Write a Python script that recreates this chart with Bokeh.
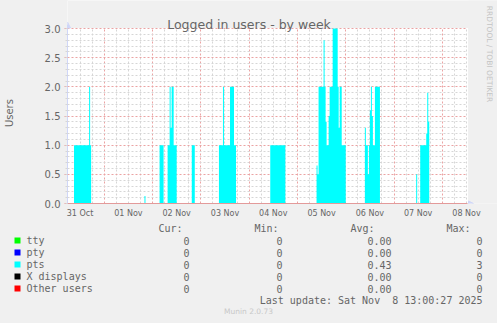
import math
from bokeh.plotting import figure
from bokeh.layouts import column, row
from bokeh.models import (FixedTicker, Arrow, NormalHead, Label,
                          Range1d, PrintfTickFormatter)
from bokeh.core.properties import value
from bokeh.embed import file_html
from bokeh.resources import INLINE

# ---------------- data ----------------
# time axis: hours since 31 Oct 00:00
day_labels = ["31 Oct", "01 Nov", "02 Nov", "03 Nov", "04 Nov",
              "05 Nov", "06 Nov", "07 Nov", "08 Nov"]
y_ticks = [0.0, 0.5, 1.0, 1.5, 2.0, 2.5, 3.0]

# pts logged-in users (30 min averages), step values starting at given hour
pts_hours = [
    5.5, 9.0, 16.5, 17.0, 17.5,
    44.0, 44.5,
    51.5, 53.5,
    55.5, 56.5, 57.0, 57.5, 58.5, 60.0,
    67.5, 69.0,
    81.0, 83.0, 83.5, 86.5, 88.5, 89.5,
    106.5, 114.0,
    129.5, 130.0, 130.5, 133.0, 133.5, 134.0, 134.5, 135.5, 136.0, 137.5,
    140.0, 140.5, 141.0, 142.0, 144.0,
    153.5, 154.0, 155.0, 155.5, 156.0, 156.5, 157.0, 157.5, 158.5, 161.0,
    179.0, 179.5,
    181.0, 184.0, 184.5, 185.0, 185.5, 205.0,
]
pts_values = [
    0, 1, 2, 1, 0,
    0.13, 0,
    1, 0,
    1, 2, 1.3, 2, 1, 0,
    1, 0,
    1, 2, 1, 2, 1, 0,
    1, 0,
    0.65, 0.5, 2, 2.8, 2, 1.4, 1, 1.5, 2, 3,
    2, 1.3, 2, 1, 0,
    1.3, 1, 0.5, 1, 1.6, 2, 1.5, 1, 2, 0,
    0.5, 0,
    1, 1.2, 1.9, 1.4, 0, 0,
]

series_names = ["tty", "pty", "pts", "X displays", "Other users"]
series_colors = ["#00FF00", "#0000FF", "#00FFFF", "#000000", "#FF0000"]
cur_vals = ["0", "0", "0", "0", "0"]
min_vals = ["0", "0", "0", "0", "0"]
avg_vals = ["0.00", "0.00", "0.43", "0.00", "0.00"]
max_vals = ["0", "0", "3", "0", "0"]
last_update = "Last update: Sat Nov\u00a0 8 13:00:27 2025"

X0, X1 = 5.76, 204.5      # visible time span (hours)
Y0, Y1 = 0.0, 3.0
PXH = 400 / (X1 - X0)     # px per hour
PXU = 175 / (Y1 - Y0)     # px per user
XR = X1 + 30 / PXH        # frame runs on to the right edge of the image
YR = Y1 + 28 / PXU        # and up to its top edge

FONT = "#666666"
AXIS = "#CFD6F8"
MAJ = "#EBA3A3"
MIN = "#D6D6D6"
BACK = "#F0F0F0"
FL, FB = 67, 203          # frame left / bottom in image pixels

# ---------------- main chart ----------------
p = figure(width=497, height=220,
           x_range=Range1d(X0, XR), y_range=Range1d(Y0, YR),
           output_backend="svg", toolbar_location=None,
           min_border_left=FL, min_border_right=0,
           min_border_top=0, min_border_bottom=17)
p.background_fill_color = "#FFFFFF"
p.border_fill_color = BACK
p.outline_line_color = None

label_hours = [12 + 24 * i for i in range(len(day_labels))]
midnights = [24 * i for i in range(1, len(day_labels))]
six_hours = [6 * i for i in range(1, 35) if (6 * i) % 24 != 0]

xa = p.xaxis[0]
xa.ticker = FixedTicker(ticks=label_hours)
xa.major_label_overrides = {h: t for h, t in zip(label_hours, day_labels)}
xa.bounds = (X0, X1)
xa.major_tick_out = 0
xa.major_tick_in = 0
xa.minor_tick_out = 0
xa.minor_tick_in = 0
xa.major_label_standoff = 5
xa.major_label_text_font = "DejaVu Sans"
xa.major_label_text_font_size = "8px"
xa.major_label_text_color = FONT
xa.axis_line_color = "#E39A9A"

ya = p.yaxis[0]
ya.ticker = FixedTicker(ticks=y_ticks,
                        minor_ticks=[round(0.1 * i, 1) for i in range(31)])
ya.formatter = PrintfTickFormatter(format="%.1f")
ya.bounds = (Y0, Y1 + 4 / PXU)
ya.axis_line_color = AXIS
ya.major_tick_out = 3
ya.major_tick_in = 0
ya.major_tick_line_color = MAJ
ya.minor_tick_out = 2
ya.minor_tick_in = 0
ya.minor_tick_line_color = MIN
ya.major_label_standoff = 4
ya.major_label_text_font = "DejaVu Sans"
ya.major_label_text_font_size = "10px"
ya.major_label_text_color = FONT
# trailing no-break spaces move the centred label down to the canvas middle
ya.axis_label = "Users" + "\u00a0" * 7
ya.axis_label_text_font = "DejaVu Sans"
ya.axis_label_text_font_size = "10px"
ya.axis_label_text_font_style = "normal"
ya.axis_label_text_color = FONT
ya.axis_label_standoff = 27

p.xgrid.ticker = FixedTicker(ticks=midnights, minor_ticks=six_hours)
p.ygrid.ticker = FixedTicker(ticks=y_ticks,
                             minor_ticks=[round(0.1 * i, 1) for i in range(31) if i % 5])
for g, cb in ((p.xgrid[0], (Y0, Y1)), (p.ygrid[0], (X0, X1))):
    g.grid_line_color = MAJ
    g.grid_line_dash = "2 2"
    g.minor_grid_line_color = MIN
    g.minor_grid_line_dash = "2 2"
    try:
        g.cross_bounds = cb
    except AttributeError:
        pass

p.varea_step(x=pts_hours, y1=0, y2=pts_values, step_mode="after",
             fill_color="#00FFFF")

# grey margins inside the frame (around the white canvas)
p.quad(left=[X0, X1 + 0.6 / PXH], right=[XR, XR],
       bottom=[Y1 + 0.6 / PXU, Y0 - 1], top=[YR, YR],
       fill_color=BACK, line_color=None)

# axis arrows
p.add_layout(Arrow(end=NormalHead(size=6, fill_color=AXIS, line_color=AXIS),
                   x_start=X0, y_start=Y1 + 2 / PXU, x_end=X0, y_end=Y1 + 6.5 / PXU,
                   line_color=AXIS, line_width=1, line_alpha=0))
p.add_layout(Arrow(end=NormalHead(size=5, fill_color=AXIS, line_color=AXIS),
                   x_start=X1 - 1 / PXH, y_start=0, x_end=X1 + 6 / PXH, y_end=0,
                   line_color=AXIS, line_width=1, line_alpha=0))


def lab(text, cx, cy, align="left", size="10px", font="DejaVu Sans",
        color=FONT, angle=0.0, baseline="alphabetic"):
    p.add_layout(Label(x=cx - FL, y=FB - cy, x_units="screen", y_units="screen",
                       text=text, text_align=align, text_baseline=baseline,
                       text_font=font, text_font_size=size, text_color=color,
                       angle=angle))


lab("Logged in users - by week", 248.5, 23.5, align="center", size="12.5px")
lab("RRDTOOL / TOBI OETIKER", 488.5, 53.5, align="center", size="7.5px",
    color="#C4C4C4", angle=-math.pi / 2, baseline="middle")

# ---------------- legend table ----------------
q = figure(width=497, height=103, x_range=Range1d(0, 497), y_range=Range1d(103, 0),
           output_backend="svg", toolbar_location=None,
           x_axis_location=None, y_axis_location=None,
           min_border_left=0, min_border_right=0, min_border_top=0,
           min_border_bottom=0)
q.background_fill_color = BACK
q.border_fill_color = BACK
q.outline_line_color = None
q.grid.grid_line_color = None

mono = dict(text_font=value("DejaVu Sans Mono"), text_font_size=value("10px"),
            text_color=FONT, text_baseline="alphabetic")

q.text(x=[182, 278, 374, 470], y=[8] * 4, text=["Cur:", "Min:", "Avg:", "Max:"],
       text_align="right", **mono)
rows_y = [20 + 12 * i for i in range(len(series_names))]
q.quad(left=14, right=20, top=[y - 3 for y in rows_y], bottom=[y + 3 for y in rows_y],
       fill_color=series_colors, line_color=None)
q.text(x=26, y=rows_y, text=series_names, text_align="left", **mono)
for xpos, vals in ((189, cur_vals), (282, min_vals), (391, avg_vals), (482, max_vals)):
    q.text(x=xpos, y=rows_y, text=vals, text_align="right", **mono)
q.text(x=[482], y=[80], text=[last_update], text_align="right", **mono)
q.text(x=[248], y=[91], text=["Munin 2.0.73"], text_align="center",
       text_baseline="alphabetic", text_font=value("DejaVu Sans"),
       text_font_size=value("7.5px"), text_color="#C8C8C8")

layout = column(row(p, spacing=0), q, spacing=0,
                styles={"background-color": BACK})
open("out.html", "w").write(file_html(layout, INLINE))
